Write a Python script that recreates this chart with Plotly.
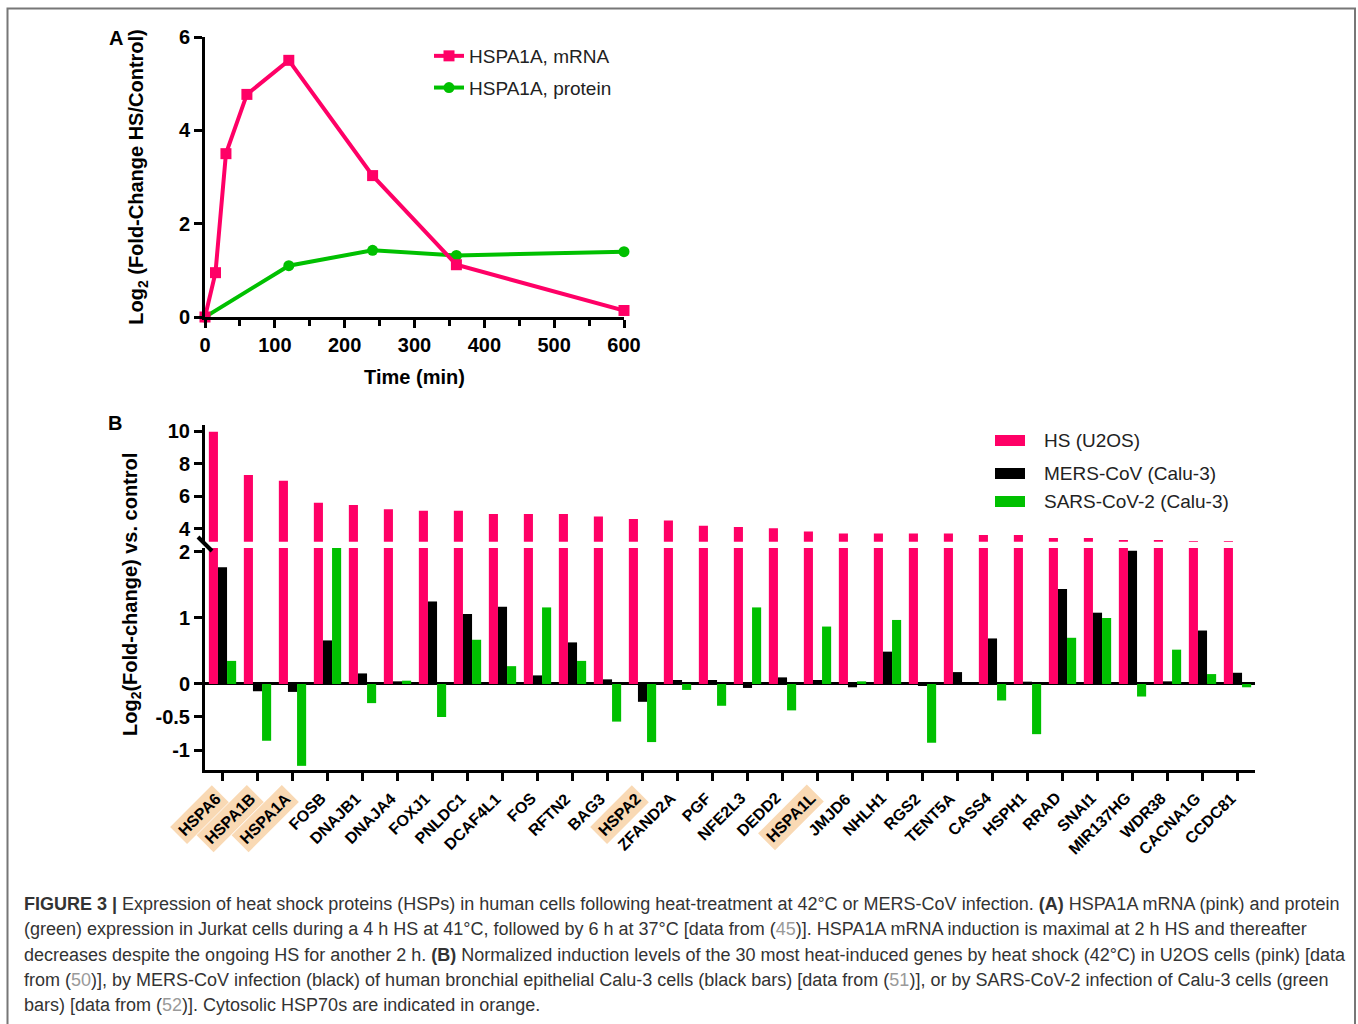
import plotly.graph_objects as go

W, H = 1358, 1024


def px(x):
    return x / W


def py(y):
    return 1 - y / H


FONT = "Liberation Sans, Arial, sans-serif"
PINK = "#FF0066"
GREEN = "#00C000"
PEACH = "#F9D9B4"

# ---------------- Panel A data ----------------
mrna_time = [0, 15, 30, 60, 120, 240, 360, 600]
mrna_log2 = [0, 0.95, 3.5, 4.77, 5.5, 3.03, 1.12, 0.14]
protein_time = [0, 120, 240, 360, 600]
protein_log2 = [0, 1.1, 1.43, 1.32, 1.4]

# ---------------- Panel B data ----------------
genes = ["HSPA6", "HSPA1B", "HSPA1A", "FOSB", "DNAJB1", "DNAJA4", "FOXJ1", "PNLDC1",
         "DCAF4L1", "FOS", "RFTN2", "BAG3", "HSPA2", "ZFAND2A", "PGF", "NFE2L3",
         "DEDD2", "HSPA1L", "JMJD6", "NHLH1", "RGS2", "TENT5A", "CASS4", "HSPH1",
         "RRAD", "SNAI1", "MIR137HG", "WDR38", "CACNA1G", "CCDC81"]
hs_u2os = [9.95, 7.3, 6.95, 5.6, 5.45, 5.2, 5.1, 5.1, 4.9, 4.9, 4.9, 4.75, 4.6, 4.5,
           4.18, 4.1, 4.02, 3.82, 3.7, 3.7, 3.7, 3.7, 3.61, 3.61, 3.42, 3.42, 3.3,
           3.3, 3.24, 3.24]
mers_calu3 = [1.77, -0.11, -0.12, 0.66, 0.16, 0.04, 1.25, 1.06, 1.17, 0.13, 0.63,
              0.07, -0.27, 0.06, 0.06, -0.06, 0.1, 0.06, -0.05, 0.49, -0.03, 0.18,
              0.69, 0.035, 1.44, 1.08, 2.02, 0.04, 0.81, 0.17]
sars2_calu3 = [0.35, -0.86, -1.24, 2.2, -0.29, 0.05, -0.5, 0.67, 0.27, 1.16, 0.35,
               -0.57, -0.88, -0.09, -0.33, 1.16, -0.4, 0.87, 0.04, 0.97, -0.89, 0.0,
               -0.25, -0.76, 0.7, 1.0, -0.19, 0.52, 0.15, -0.05]
cytosolic_hsp70 = ["HSPA6", "HSPA1B", "HSPA1A", "HSPA2", "HSPA1L"]

fig = go.Figure()

# Panel A traces
fig.add_trace(go.Scatter(
    x=protein_time, y=protein_log2, mode="lines+markers", name="HSPA1A, protein",
    line=dict(color=GREEN, width=4), marker=dict(symbol="circle", size=11, color=GREEN),
    xaxis="x", yaxis="y", cliponaxis=False, legendrank=2, legendgroup="p"))
fig.add_trace(go.Scatter(
    x=mrna_time, y=mrna_log2, mode="lines+markers", name="HSPA1A, mRNA",
    line=dict(color=PINK, width=4), marker=dict(symbol="square", size=11, color=PINK),
    xaxis="x", yaxis="y", cliponaxis=False, legendrank=1, legendgroup="m"))

# Panel B bars (bottom segment)
BW = 0.26
fig.add_trace(go.Bar(x=genes, y=hs_u2os, marker=dict(color=PINK, line=dict(width=0)),
                     width=BW, offset=-0.39, xaxis="x2", yaxis="y2", showlegend=False))
fig.add_trace(go.Bar(x=genes, y=mers_calu3, marker=dict(color="black", line=dict(width=0)),
                     width=BW, offset=-0.13, xaxis="x2", yaxis="y2", showlegend=False))
fig.add_trace(go.Bar(x=genes, y=sars2_calu3, marker=dict(color=GREEN, line=dict(width=0)),
                     width=BW, offset=0.13, xaxis="x2", yaxis="y2", showlegend=False))
# Panel B bars (top segment of broken axis)
fig.add_trace(go.Bar(x=genes, y=hs_u2os, marker=dict(color=PINK, line=dict(width=0)),
                     width=BW, offset=-0.39, xaxis="x2", yaxis="y3", showlegend=False))

axis_common = dict(showline=True, linecolor="black", linewidth=3, ticks="outside",
                   tickcolor="black", tickwidth=3, ticklen=8, showgrid=False,
                   zeroline=False, automargin=False,
                   tickfont=dict(family=FONT, size=20, color="black", weight="bold"))

fig.update_layout(
    width=W, height=H, autosize=False,
    margin=dict(l=0, r=0, t=0, b=0, pad=0, autoexpand=False),
    paper_bgcolor="white", plot_bgcolor="rgba(0,0,0,0)",
    barmode="overlay",
    font=dict(family=FONT, color="black"),
    xaxis=dict(domain=[px(205), px(624)], range=[0, 600], anchor="y",
               tickvals=[0, 100, 200, 300, 400, 500, 600],
               minor=dict(dtick=50, tick0=0, ticks="outside", ticklen=6, tickwidth=3,
                          tickcolor="black"),
               title=dict(text="Time (min)", standoff=15,
                          font=dict(family=FONT, size=20, weight="bold")),
               **axis_common),
    yaxis=dict(domain=[py(317), py(37)], range=[0, 6], anchor="x", tickvals=[0, 2, 4, 6],
               title=dict(text="Log<sub>2</sub> (Fold-Change HS/Control)", standoff=30,
                          font=dict(family=FONT, size=20, weight="bold")),
               **axis_common),
    xaxis2=dict(domain=[px(205), px(1255)], anchor="y2", type="category",
                categoryorder="array", categoryarray=genes, range=[-0.5, 29.5],
                showticklabels=False, **axis_common),
    yaxis2=dict(domain=[py(770), py(548)], range=[-1.303, 2.06], anchor="x2",
                tickvals=[-1, -0.5, 0, 1, 2], ticktext=["-1", "-0.5", "0", "1", "2"],
                **{**axis_common, "zeroline": True}, zerolinecolor="black",
                zerolinewidth=3),
    yaxis3=dict(domain=[py(541.7), py(425)], range=[3.2, 10.37], anchor="x2",
                tickvals=[4, 6, 8, 10], **axis_common),
    legend=dict(x=px(429), y=py(37), xanchor="left", yanchor="top",
                bgcolor="rgba(0,0,0,0)", tracegroupgap=4,
                font=dict(family=FONT, size=19, color="#222")),
)

annotations = []
# Panel letters
annotations.append(dict(text="<b>A</b>", x=px(116), y=py(38), xref="paper", yref="paper",
                        xanchor="center", yanchor="middle",
                        showarrow=False, font=dict(family=FONT, size=20, color="black")))
annotations.append(dict(text="<b>B</b>", x=px(115), y=py(423), xref="paper", yref="paper",
                        xanchor="center", yanchor="middle",
                        showarrow=False, font=dict(family=FONT, size=20, color="black")))
# Panel B y title
annotations.append(dict(text="<b>Log<sub>2</sub>(Fold-change) vs. control</b>",
                        x=px(131), y=py(595), xref="paper", yref="paper", textangle=-90,
                        xanchor="center", yanchor="middle",
                        showarrow=False, font=dict(family=FONT, size=20, color="black")))
# Gene labels
for g in genes:
    hl = g in cytosolic_hsp70
    annotations.append(dict(text="<b>" + g + "</b>", x=g, xref="x2", y=py(784), yref="paper",
                            xanchor="right", yanchor="top", textangle=-45, xshift=7,
                            showarrow=False, bgcolor=PEACH if hl else "rgba(0,0,0,0)",
                            borderpad=3,
                            font=dict(family=FONT, size=16, color="black")))
# Panel B legend
legB = [("HS (U2OS)", PINK, 440), ("MERS-CoV (Calu-3)", "black", 473),
        ("SARS-CoV-2 (Calu-3)", GREEN, 501)]
shapes = []
for label, col, yy in legB:
    shapes.append(dict(type="rect", xref="paper", yref="paper", x0=px(995), x1=px(1025),
                       y0=py(yy + 6), y1=py(yy - 5), fillcolor=col, line=dict(width=0)))
    annotations.append(dict(text=label, x=px(1042), y=py(yy), xref="paper", yref="paper",
                            xanchor="left", yanchor="middle", showarrow=False,
                            font=dict(family=FONT, size=19, color="#222")))
# axis break mark
shapes.append(dict(type="line", xref="paper", yref="paper", x0=px(198), y0=py(537),
                   x1=px(212), y1=py(551), line=dict(color="black", width=4)))
# figure frame
shapes.append(dict(type="rect", xref="paper", yref="paper", x0=px(7.5), x1=px(1355),
                   y0=py(1030), y1=py(8.5), line=dict(color="#777", width=2),
                   fillcolor="rgba(0,0,0,0)"))

# Caption
G = "<span style='color:#9a9a9a'>"
caption = [
    "<b>FIGURE 3 |</b> Expression of heat shock proteins (HSPs) in human cells following heat-treatment at 42°C or MERS-CoV infection. <b>(A)</b> HSPA1A mRNA (pink) and protein",
    "(green) expression in Jurkat cells during a 4 h HS at 41°C, followed by 6 h at 37°C [data from (" + G + "45</span>)]. HSPA1A mRNA induction is maximal at 2 h HS and thereafter",
    "decreases despite the ongoing HS for another 2 h. <b>(B)</b> Normalized induction levels of the 30 most heat-induced genes by heat shock (42°C) in U2OS cells (pink) [data",
    "from (" + G + "50</span>)], by MERS-CoV infection (black) of human bronchial epithelial Calu-3 cells (black bars) [data from (" + G + "51</span>)], or by SARS-CoV-2 infection of Calu-3 cells (green",
    "bars) [data from (" + G + "52</span>)]. Cytosolic HSP70s are indicated in orange.",
]
for i, line in enumerate(caption):
    annotations.append(dict(text=line, x=px(22), y=py(904 + 25.3 * i), xref="paper",
                            yref="paper", xanchor="left", yanchor="middle", showarrow=False,
                            font=dict(family=FONT, size=18, color="#333")))

fig.update_layout(annotations=annotations, shapes=shapes)
fig.write_html("out.html", config={"displayModeBar": False},
               post_script="document.body.style.margin='0';document.body.style.overflow='hidden';")
